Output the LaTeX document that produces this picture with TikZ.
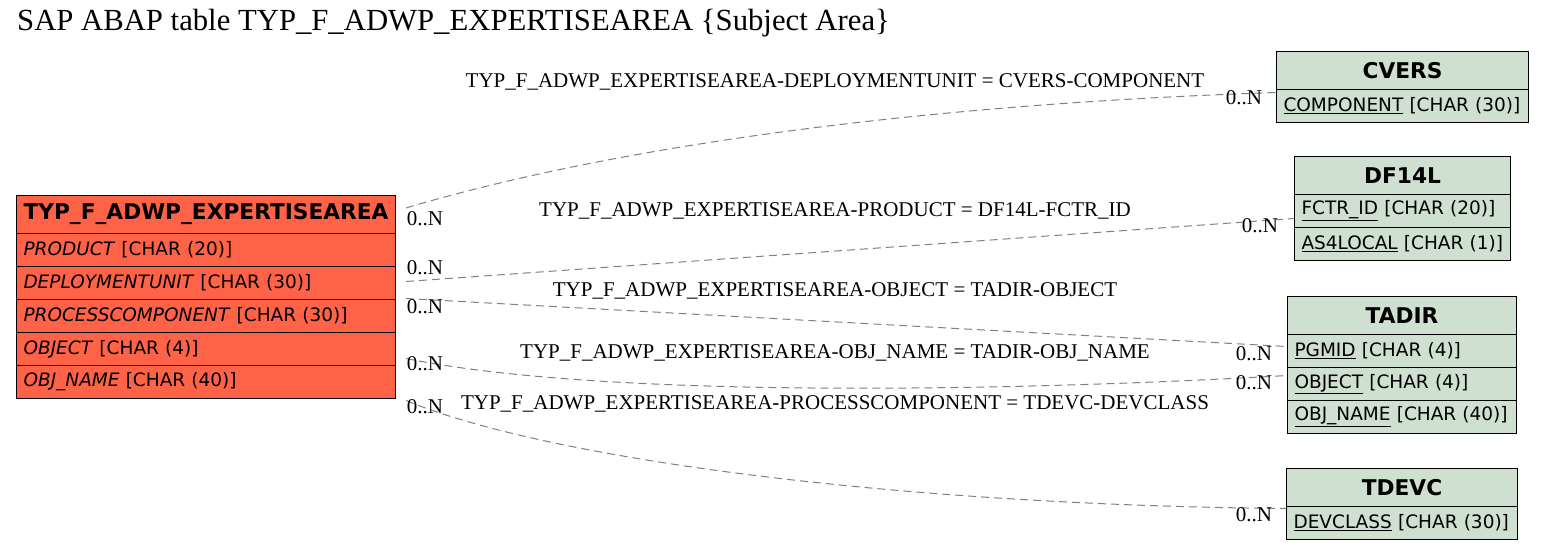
\documentclass[tikz,border=0pt]{standalone}
\usepackage{fontspec}
\setmainfont{Liberation Serif}
\setsansfont{DejaVu Sans}
\usepackage{tikz}
\usetikzlibrary{positioning, calc}
\usepackage{xcolor}
\definecolor{mainfill}{HTML}{FF6347}
\definecolor{relfill}{HTML}{D0E0D0}
\definecolor{edgegray}{HTML}{808080}

\tikzset{
  hdr/.style={draw=black, fill=#1, line width=1pt, anchor=north west, inner sep=0pt, minimum height=38pt, font=\sffamily\bfseries\fontsize{21.7}{24}\selectfont},
  fld/.style={draw=black, fill=#1, line width=1pt, anchor=north west, inner xsep=7pt, inner ysep=0pt, minimum height=33pt, align=left, font=\sffamily\fontsize{18.5}{21}\selectfont},
  rel/.style={draw=edgegray, dash pattern=on 8pt off 5pt, line width=1pt},
  rellabel/.style={font=\fontsize{21}{24}\selectfont, inner sep=0pt},
  card/.style={font=\fontsize{21}{24}\selectfont, inner sep=0pt}
}

\begin{document}
\begin{tikzpicture}[x=1pt, y=-1pt]
  \useasboundingbox (0,0) rectangle (1544,549);
  \node[anchor=west, inner sep=0pt, font=\fontsize{30.7}{34}\selectfont] (title) at (17,23) {SAP ABAP table TYP\_F\_ADWP\_EXPERTISEAREA \{Subject Area\}};

  % main table
  \node[hdr=mainfill, minimum width=379pt] (main) at (16,195) {TYP\_F\_ADWP\_EXPERTISEAREA};
  \node[fld=mainfill, text width=365pt] (product) at (16,233) {\mbox{\textit{PRODUCT} [CHAR (20)]}};
  \node[fld=mainfill, text width=365pt] (depunit) at (16,266) {\mbox{\textit{DEPLOYMENTUNIT} [CHAR (30)]}};
  \node[fld=mainfill, text width=365pt] (proccomp) at (16,299) {\mbox{\textit{PROCESSCOMPONENT} [CHAR (30)]}};
  \node[fld=mainfill, text width=365pt] (object) at (16,332) {\mbox{\textit{OBJECT} [CHAR (4)]}};
  \node[fld=mainfill, text width=365pt] (objname) at (16,365) {\mbox{\textit{OBJ\_NAME} [CHAR (40)]}};

  % CVERS
  \node[hdr=relfill, minimum width=252pt] (cvers) at (1276,51) {CVERS};
  \node[fld=relfill, text width=238pt] (cverscomp) at (1276,89) {\mbox{\underline{COMPONENT} [CHAR (30)]}};

  % DF14L
  \node[hdr=relfill, minimum width=216pt] (df14l) at (1294,156) {DF14L};
  \node[fld=relfill, text width=202pt] (df14lfctr) at (1294,194) {\mbox{\underline{FCTR\_ID} [CHAR (20)]}};
  \node[fld=relfill, text width=202pt] (df14las4) at (1294,227) {\mbox{\underline{AS4LOCAL} [CHAR (1)]}};

  % TADIR
  \node[hdr=relfill, minimum width=229pt] (tadir) at (1287,296) {TADIR};
  \node[fld=relfill, text width=215pt] (tadirpgmid) at (1287,334) {\mbox{\underline{PGMID} [CHAR (4)]}};
  \node[fld=relfill, text width=215pt] (tadirobj) at (1287,367) {\mbox{\underline{OBJECT} [CHAR (4)]}};
  \node[fld=relfill, text width=215pt] (tadirname) at (1287,400) {\mbox{\underline{OBJ\_NAME} [CHAR (40)]}};

  % TDEVC
  \node[hdr=relfill, minimum width=231pt] (tdevc) at (1286,468) {TDEVC};
  \node[fld=relfill, text width=217pt] (tdevcclass) at (1286,506) {\mbox{\underline{DEVCLASS} [CHAR (30)]}};

  % relations
  \draw[rel] ([xshift=10pt,yshift=6.5pt]main.east) .. controls (600,150) and (900,105) .. ([yshift=13.5pt]cverscomp.west);
  \draw[rel] ([xshift=10pt,yshift=1.5pt]depunit.east) -- ([yshift=-7.5pt]df14lfctr.west);
  \draw[rel] ([xshift=10pt,yshift=17.5pt]proccomp.east) -- ([yshift=4.5pt]tadirpgmid.west);
  \draw[rel] ([xshift=10pt,yshift=-9.5pt]object.east) .. controls (600,398) and (1000,392) .. ([yshift=8.5pt]tadirobj.west);
  \draw[rel] ([xshift=10pt,yshift=-18.5pt]objname.east) .. controls (550,460) and (900,505) .. ([yshift=14.5pt]tdevcclass.west);

  \node[rellabel] (lbl1) at (835,82) {TYP\_F\_ADWP\_EXPERTISEAREA-DEPLOYMENTUNIT = CVERS-COMPONENT};
  \node[rellabel] (lbl2) at (835,211) {TYP\_F\_ADWP\_EXPERTISEAREA-PRODUCT = DF14L-FCTR\_ID};
  \node[rellabel] (lbl3) at (835,291) {TYP\_F\_ADWP\_EXPERTISEAREA-OBJECT = TADIR-OBJECT};
  \node[rellabel] (lbl4) at (835,353) {TYP\_F\_ADWP\_EXPERTISEAREA-OBJ\_NAME = TADIR-OBJ\_NAME};
  \node[rellabel] (lbl5) at (835,404) {TYP\_F\_ADWP\_EXPERTISEAREA-PROCESSCOMPONENT = TDEVC-DEVCLASS};

  \node[card] (c1a) at (425,219) {0..N};
  \node[card] (c1b) at (1244,98) {0..N};
  \node[card] (c2a) at (425,268) {0..N};
  \node[card] (c2b) at (1260,226) {0..N};
  \node[card] (c3a) at (425,307) {0..N};
  \node[card] (c3b) at (1254,354) {0..N};
  \node[card] (c4a) at (425,364) {0..N};
  \node[card] (c4b) at (1254,383) {0..N};
  \node[card] (c5a) at (425,407) {0..N};
  \node[card] (c5b) at (1254,515) {0..N};
\end{tikzpicture}
\end{document}
